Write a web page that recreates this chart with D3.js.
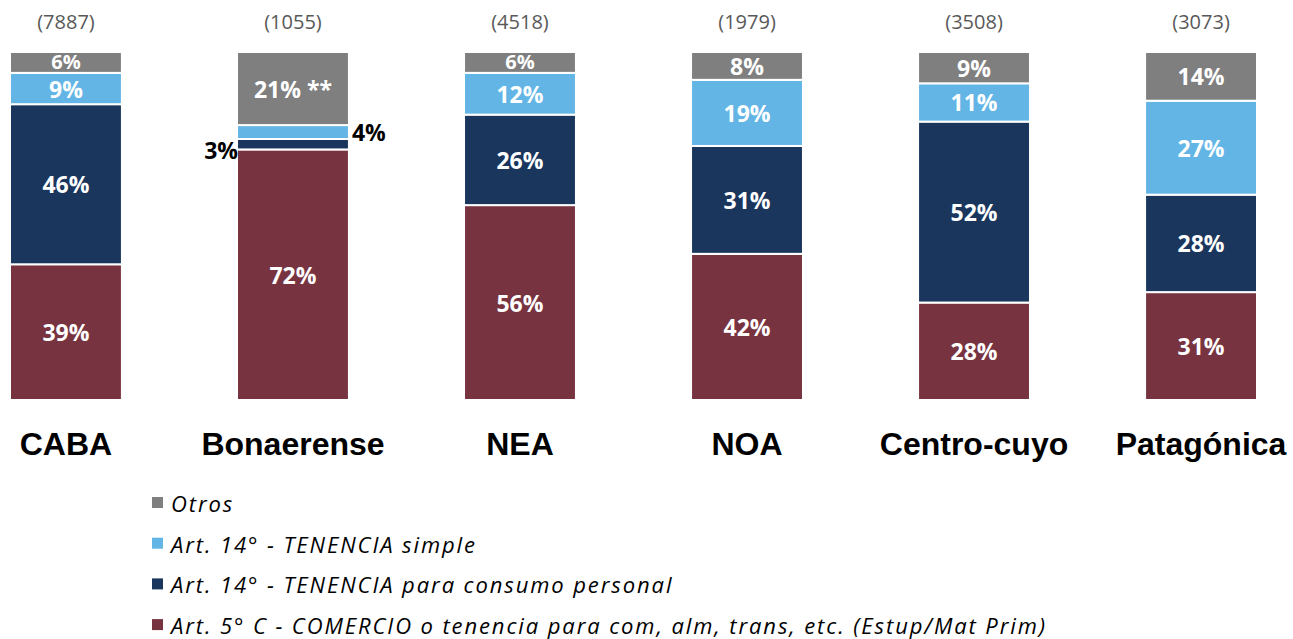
<!DOCTYPE html>
<html>
<head>
<meta charset="utf-8">
<title>Stacked bars</title>
<style>
  body { margin: 0; background: #fff; }
  .legend text { font-family: 'Open Sans', sans-serif; font-style: italic; font-size: 22px; letter-spacing: 1.9px; }
</style>
</head>
<body>
<svg width="1293" height="639" id="chart"></svg>
<script src="https://d3js.org/d3.v7.min.js"></script>
<script>

var regions = ["CABA", "Bonaerense", "NEA", "NOA", "Centro-cuyo", "Patagónica"];
var counts = ["(7887)", "(1055)", "(4518)", "(1979)", "(3508)", "(3073)"];

var seriesNames = [
  "Art. 5° C - COMERCIO o tenencia para com, alm, trans, etc. (Estup/Mat Prim)",
  "Art. 14° - TENENCIA para consumo personal",
  "Art. 14° - TENENCIA simple",
  "Otros"
];
var comercio = [39, 72, 56, 42, 28, 31];
var consumo = [46, 3, 26, 31, 52, 28];
var simple = [9, 4, 12, 19, 11, 27];
var otros = [6, 21, 6, 8, 9, 14];

var colors = ["#77333f", "#1a365d", "#63b5e5", "#7f7f7f"];

var svg = d3.select("#chart");

var rows = regions.map(function(r, i) {
  return { region: r, s0: comercio[i], s1: consumo[i], s2: simple[i], s3: otros[i] };
});
var keys = ["s0", "s1", "s2", "s3"];
var stacked = d3.stack().keys(keys)(rows);

var x = d3.scaleBand().domain(regions).range([10, 1257]).paddingInner(0.507).paddingOuter(0);
var y = d3.scaleLinear().domain([0, 100]).range([400, 52]);

var layers = svg.selectAll(".layer")
  .data(stacked)
  .enter().append("g")
  .attr("class", "layer")
  .attr("fill", function(d, i) { return colors[i]; });

layers.selectAll("rect")
  .data(function(d) { return d; })
  .enter().append("rect")
  .attr("x", function(d) { return x(d.data.region); })
  .attr("y", function(d) { return y(d[1]); })
  .attr("width", x.bandwidth())
  .attr("height", function(d) { return y(d[0]) - y(d[1]); })
  .attr("stroke", "#fff")
  .attr("stroke-width", 2);

// segment labels
layers.each(function(layer, li) {
  d3.select(this).selectAll("text.val")
    .data(layer)
    .enter().append("text")
    .attr("class", "val")
    .attr("font-family", "'Open Sans', sans-serif")
    .attr("font-weight", "bold")
    .attr("font-size", 23)
    .attr("dominant-baseline", "central")
    .each(function(d) {
      var v = d[1] - d[0];
      var t = d3.select(this);
      var cx = x(d.data.region) + x.bandwidth() / 2;
      var cy = (y(d[0]) + y(d[1])) / 2;
      if (v < 5) {
        // small slices are labelled outside the bar
        t.attr("fill", "#000")
         .attr("text-anchor", li === 1 ? "end" : "start")
         .attr("x", li === 1 ? x(d.data.region) + 1 : x(d.data.region) + x.bandwidth() + 3)
         .attr("y", li === 1 ? cy + 6 : cy)
         .text(v + "%");
      } else {
        t.attr("fill", "#fff")
         .attr("text-anchor", "middle")
         .attr("x", cx)
         .attr("y", v < 7 ? cy - 1 : cy)
         .attr("font-size", v < 7 ? 20 : 23)
         .text(v + "%" + (d.data.region === "Bonaerense" && li === 3 ? " **" : ""));
      }
    });
});

// counts above bars
svg.selectAll(".count")
  .data(regions)
  .enter().append("text")
  .attr("class", "count")
  .attr("x", function(d) { return x(d) + x.bandwidth() / 2; })
  .attr("y", 29)
  .attr("text-anchor", "middle")
  .attr("font-family", "'Open Sans', sans-serif")
  .attr("font-size", 20)
  .attr("fill", "#595959")
  .text(function(d, i) { return counts[i]; });

// category labels
svg.selectAll(".cat")
  .data(regions)
  .enter().append("text")
  .attr("class", "cat")
  .attr("x", function(d) { return x(d) + x.bandwidth() / 2; })
  .attr("y", 455)
  .attr("text-anchor", "middle")
  .attr("font-family", "'Liberation Sans', Arial, sans-serif")
  .attr("font-weight", "bold")
  .attr("font-size", 32)
  .attr("fill", "#000")
  .text(function(d) { return d; });

// legend
var legendOrder = [3, 2, 1, 0];
var legend = svg.selectAll(".legend")
  .data(legendOrder)
  .enter().append("g")
  .attr("class", "legend")
  .attr("transform", function(d, i) { return "translate(152," + (503 + i * 40.7) + ")"; });

legend.append("rect")
  .attr("x", 0)
  .attr("y", -6)
  .attr("width", 11)
  .attr("height", 11)
  .attr("fill", function(d) { return colors[d]; });

legend.append("text")
  .attr("x", 19)
  .attr("dominant-baseline", "central")
  .attr("fill", "#000")
  .text(function(d) { return seriesNames[d]; });

</script>
</body>
</html>
